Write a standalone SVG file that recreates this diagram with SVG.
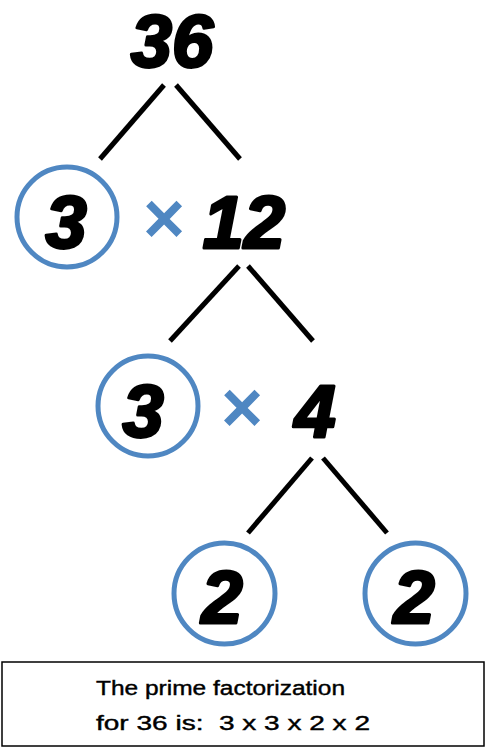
<svg xmlns="http://www.w3.org/2000/svg" width="487" height="748" viewBox="0 0 487 748">
<style>
.num{font-family:"Liberation Sans",Arial,sans-serif;font-weight:bold;font-style:italic;font-size:74px;fill:#000;stroke:#000;stroke-width:3;stroke-linejoin:round;text-anchor:middle}
.times{font-family:"Liberation Sans",Arial,sans-serif;font-weight:bold;font-size:72px;fill:#4f87c2;text-anchor:middle}
.ring{fill:none;stroke:#4f87c2;stroke-width:5}
.edge{stroke:#000;stroke-width:5;stroke-linecap:butt}
.note{font-family:"Liberation Sans",Arial,sans-serif;font-size:20px;fill:#000;stroke:#000;stroke-width:0.4;white-space:pre}
</style>
<rect width="487" height="748" fill="#fff"/>
<g id="n36"><text class="num" x="172" y="67">36</text></g>
<g id="n3a"><circle class="ring" cx="67" cy="217" r="50"/><text class="num" x="66" y="248">3</text></g>
<g id="x1"><text class="times" x="164" y="243">×</text></g>
<g id="n12"><text class="num" x="244" y="248" font-size="70">12</text></g>
<g id="n3b"><circle class="ring" cx="148" cy="406" r="50"/><text class="num" x="143" y="437">3</text></g>
<g id="x2"><text class="times" x="242" y="432">×</text></g>
<g id="n4"><text class="num" x="315" y="437">4</text></g>
<g id="n2a"><circle class="ring" cx="224.5" cy="593.5" r="50.5"/><text class="num" x="222" y="623">2</text></g>
<g id="n2b"><circle class="ring" cx="415.5" cy="593.5" r="50.5"/><text class="num" x="414" y="623">2</text></g>
<g id="connectors">
<line class="edge" x1="164" y1="85" x2="100" y2="159"/>
<line class="edge" x1="176" y1="85" x2="240" y2="159"/>
<line class="edge" x1="239" y1="266" x2="170" y2="341"/>
<line class="edge" x1="248" y1="266" x2="313" y2="341"/>
<line class="edge" x1="312" y1="458" x2="248" y2="533"/>
<line class="edge" x1="323" y1="458" x2="387" y2="533"/>
</g>
<g id="note">
<rect x="2" y="662" width="482" height="84" fill="none" stroke="#000" stroke-width="1.5"/>
<text class="note" x="96" y="695" textLength="249" lengthAdjust="spacingAndGlyphs">The prime factorization</text>
<text class="note" x="96" y="730" textLength="274" lengthAdjust="spacingAndGlyphs">for 36 is:  3 x 3 x 2 x 2</text>
</g>
</svg>
